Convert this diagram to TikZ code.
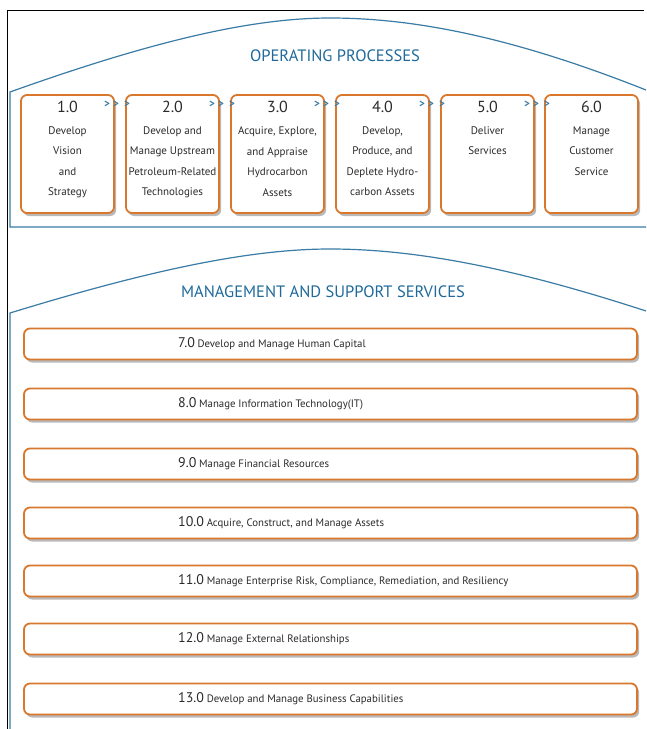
\documentclass[tikz,border=0pt]{standalone}
\usepackage{fontspec}
\setmainfont{PT Sans}
\usetikzlibrary{shadows}
\definecolor{boxorange}{HTML}{D9782D}
\definecolor{lineblue}{HTML}{3A7CA5}
\definecolor{headblue}{HTML}{1F6A9A}
\definecolor{txt}{HTML}{2B2B2B}
\tikzset{
  opbox/.style={draw=boxorange, line width=1.8pt, fill=white, rounded corners=6pt,
    minimum width=93pt, minimum height=118pt, inner sep=0pt,
    drop shadow={shadow xshift=2.2pt, shadow yshift=-3pt, opacity=0.55, fill=black!50}},
  bar/.style={draw=boxorange, line width=1.8pt, fill=white, rounded corners=6pt,
    minimum width=613pt, minimum height=31pt, inner sep=0pt,
    drop shadow={shadow xshift=2.2pt, shadow yshift=-3pt, opacity=0.55, fill=black!50}},
  num/.style={text=txt, font=\fontsize{16}{16}\selectfont, inner sep=0pt},
  body/.style={text=txt, font=\fontsize{11}{20.5}\selectfont, align=center, inner sep=0pt, anchor=north},
  bartext/.style={text=txt, anchor=west, inner sep=0pt},
  heading/.style={text=headblue, font=\fontsize{16.5}{18}\selectfont},
  chev/.style={text=lineblue, font=\fontsize{11}{11}\selectfont\bfseries, inner sep=0pt},
  frameline/.style={draw=lineblue, line width=1.2pt},
}
\begin{document}
\begin{tikzpicture}[x=1pt, y=-1pt]
\useasboundingbox (0,0) rectangle (646,729);
\fill[white] (0,0) rectangle (646,729);
% outer black frame
\coordinate (fbl) at (7,729);
\coordinate (ftl) at (7,10);
\coordinate (ftr) at (644,10);
\draw[black, line width=1pt] (fbl) -- (ftl) -- (ftr);
% top section frame
\coordinate (tA) at (10,92);
\coordinate (tP) at (330,18);
\coordinate (tB) at (646,90);
\coordinate (tBL) at (10,227);
\coordinate (tBR) at (646,227);
\draw[frameline] (tBR) -- (tBL) -- (tA) .. controls (150,42) and (250,18) .. (tP)
  .. controls (420,18) and (520,40) .. (tB);
% bottom section frame
\coordinate (bA) at (10,313);
\coordinate (bP) at (330,249);
\coordinate (bB) at (646,311);
\coordinate (bBL) at (10,729);
\draw[frameline] (bBL) -- (bA) .. controls (150,270) and (250,249) .. (bP)
  .. controls (420,249) and (520,270) .. (bB);
% headings
\node[heading] (h1) at (335,56) {OPERATING PROCESSES};
\node[heading] (h2) at (323,292) {MANAGEMENT AND SUPPORT SERVICES};
% operating process boxes
\foreach \i/\x/\n/\t in {
  1/67.5/1.0/{Develop\\Vision\\and\\Strategy},
  2/172.5/2.0/{Develop and\\Manage Upstream\\Petroleum-Related\\Technologies},
  3/277.5/3.0/{Acquire, Explore,\\and Appraise\\Hydrocarbon\\Assets},
  4/382.5/4.0/{Develop,\\Produce, and\\Deplete Hydro-\\carbon Assets},
  5/487.5/5.0/{Deliver\\Services},
  6/591.5/6.0/{Manage\\Customer\\Service}}{
  \node[opbox] (b\i) at (\x,154) {};
  \node[num] (n\i) at (\x,107) {\n};
  \node[body] (d\i) at (\x,126.5) {\t};
}
% chevrons between boxes
\foreach \i/\x in {1/115,2/220,3/325,4/430,5/535}{
  \node[chev] (c\i a) at (\x-8,104) {>};
  \node[chev] (c\i b) at (\x+1,104) {>};
  \node[chev] (c\i c) at (\x+12,104) {>};
}
% management bars
\foreach \i/\y/\n/\t in {
  7/344/7.0/Develop and Manage Human Capital,
  8/404/8.0/Manage Information Technology(IT),
  9/464/9.0/Manage Financial Resources,
  10/523/10.0/{Acquire, Construct, and Manage Assets},
  11/581/11.0/{Manage Enterprise Risk, Compliance, Remediation, and Resiliency},
  12/639/12.0/Manage External Relationships,
  13/699/13.0/Develop and Manage Business Capabilities}{
  \node[bar] (r\i) at (330.5,\y) {};
  \node[bartext] (rt\i) at (178,\y) {{\fontsize{14}{14}\selectfont\n}\ {\fontsize{10.8}{11}\selectfont\t}};
}
\end{tikzpicture}
\end{document}
